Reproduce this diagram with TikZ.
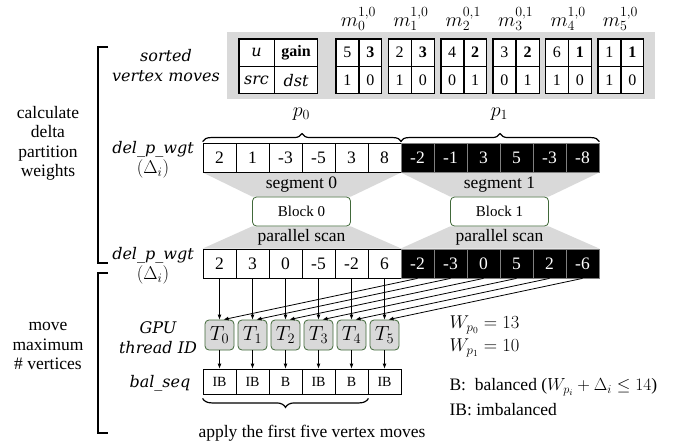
\RequirePackage{fix-cm}
\documentclass[tikz,border=0pt]{standalone}
\usepackage{fontspec}
\setmainfont{Liberation Serif}
\newfontfamily\lblfont{DejaVu Serif}
\usepackage{tikz}
\usetikzlibrary{positioning, arrows.meta, decorations.pathreplacing, backgrounds}
\definecolor{lightshade}{HTML}{D9D9D9}
\definecolor{blockgreen}{HTML}{41693A}

\tikzset{
  cell/.style={draw, line width=0.8pt, fill=white, minimum width=33pt, minimum height=29pt, inner sep=0pt},
  dcell/.style={cell, fill=black, draw=gray, text=white},
  bcell/.style={cell, minimum height=25pt, font=\fontsize{14}{16}\selectfont},
  mcell/.style={draw, line width=0.6pt, fill=white, minimum width=22.5pt, minimum height=27pt, inner sep=0pt, font=\fontsize{16}{18}\selectfont},
  hcell/.style={mcell},
  block/.style={draw=blockgreen, line width=0.8pt, fill=white, rounded corners=4pt, minimum width=98pt, minimum height=29pt, font=\fontsize{15}{17}\selectfont},
  tnode/.style={draw=blockgreen, line width=0.8pt, fill=lightshade, rounded corners=4pt, minimum width=29pt, minimum height=30pt, inner sep=0pt, font=\fontsize{20.5}{22}\selectfont},
  lbl/.style={align=center, font=\lblfont\itshape\fontsize{16}{20}\selectfont},
  mathlbl/.style={font=\fontsize{20}{22}\selectfont},
  arr/.style={-{Latex[length=5pt,width=4pt]}, line width=0.8pt},
  brace/.style={decorate, decoration={brace, amplitude=8pt}, line width=1.2pt}
}

\begin{document}
\begin{tikzpicture}[x=1pt, y=-1pt, font=\fontsize{17.5}{19.5}\selectfont]
  \useasboundingbox (0,0) rectangle (689,444);

  % sorted vertex moves
  \fill[lightshade] (227,32) rectangle (655,99);
  \node[hcell, minimum width=35pt] (hu) at (256.5,52.5) {\lblfont\itshape u};
  \node[hcell, minimum width=43pt, right=0pt of hu] (hg) {\textbf{gain}};
  \node[hcell, minimum width=35pt, below=0pt of hu] (hs) {\lblfont\itshape src};
  \node[hcell, minimum width=43pt, below=0pt of hg] (hd) {\lblfont\itshape dst};
  \draw[line width=1.1pt] (hu.north west) rectangle (hd.south east);

  \foreach \u/\g/\s/\d/\mv [count=\i from 0] in {5/3/1/0/{1,0}, 2/3/1/0/{1,0}, 4/2/0/1/{0,1}, 3/2/0/1/{0,1}, 6/1/1/0/{1,0}, 1/1/1/0/{1,0}} {
    \node[mcell] (mu\i) at (347.25+52.4*\i,52.5) {\u};
    \node[mcell, right=0pt of mu\i] (mg\i) {\textbf{\g}};
    \node[mcell, below=0pt of mu\i] (ms\i) {\s};
    \node[mcell, below=0pt of mg\i] (md\i) {\d};
    \draw[line width=1.1pt] (mu\i.north west) rectangle (md\i.south east);
    \node[mathlbl] (ml\i) at (358.5+52.4*\i,19) {$m_{\i}^{\mv}$};
  }

  % delta partition weights
  \foreach \v [count=\i from 0] in {2,1,-3,-5,3,8}
    \node[cell] (d\i) at (219.5+33*\i,157.5) {\v};
  \foreach \v [count=\i from 6] in {-2,-1,3,5,-3,-8}
    \node[dcell] (d\i) at (219.5+33*\i,157.5) {\v};
  \draw[brace] ([yshift=1pt]d0.north west) -- ([yshift=1pt]d5.north east);
  \draw[brace] ([yshift=1pt]d6.north west) -- ([yshift=1pt]d11.north east);
  \node[mathlbl] (p0) at (301.5,114) {$p_0$};
  \node[mathlbl] (p1) at (499.5,114) {$p_1$};

  \node[block] (blk0) at (301.5,211.5) {Block 0};
  \node[block] (blk1) at (499.5,211.5) {Block 1};

  \foreach \v [count=\i from 0] in {2,3,0,-5,-2,6}
    \node[cell] (s\i) at (219.5+33*\i,263.5) {\v};
  \foreach \v [count=\i from 6] in {-2,-3,0,5,2,-6}
    \node[dcell] (s\i) at (219.5+33*\i,263.5) {\v};

  \begin{scope}[on background layer]
    \fill[lightshade] (d0.south west) -- (d5.south east) -- (blk0.north east) -- (blk0.north west) -- cycle;
    \fill[lightshade] (d6.south west) -- (d11.south east) -- (blk1.north east) -- (blk1.north west) -- cycle;
    \fill[lightshade] (blk0.south west) -- (blk0.south east) -- (s5.north east) -- (s0.north west) -- cycle;
    \fill[lightshade] (blk1.south west) -- (blk1.south east) -- (s11.north east) -- (s6.north west) -- cycle;
  \end{scope}
  \node (seg0) at (301.5,185) {segment 0};
  \node (seg1) at (499.5,185) {segment 1};
  \node (scan0) at (301.5,237) {parallel scan};
  \node (scan1) at (499.5,237) {parallel scan};

  % threads and balance
  \foreach \i in {0,...,5}
    \node[tnode] (t\i) at (219.5+33*\i,335) {$T_{\i}$};
  \foreach \v [count=\i from 0] in {IB,IB,B,IB,B,IB}
    \node[bcell] (b\i) at (219.5+33*\i,381.5) {\v};
  \foreach \i [evaluate=\i as \j using int(\i+6)] in {0,...,5} {
    \draw[arr] (s\i.south) -- (t\i.north);
    \draw[arr] (s\j.south) -- ([xshift=4pt]t\i.north);
    \draw[arr] (t\i.south) -- (b\i.north);
  }
  \draw[brace, decoration={amplitude=9pt}] ([yshift=-4pt]b4.south east) -- ([yshift=-4pt]b0.south west);
  \node (apply) at (312,433) {apply the first five vertex moves};

  \node[anchor=west, font=\fontsize{18.5}{20}\selectfont] (w0) at (446,325) {$W_{p_0} = 13$};
  \node[anchor=west, font=\fontsize{18.5}{20}\selectfont] (w1) at (446,348) {$W_{p_1} = 10$};
  \node[anchor=west] (kb) at (446,387) {B:\ \ balanced ($W_{p_i} + \Delta_i \leq 14$)};
  \node[anchor=west] (kib) at (446,410) {IB: imbalanced};

  % row labels
  \node[lbl] (lsort) at (166,66) {sorted\\vertex moves};
  \node[lbl] (ldel0) at (153,160) {del\_p\_wgt\\\normalfont\fontsize{18.5}{20}\selectfont$(\Delta_i)$};
  \node[lbl] (ldel1) at (153,266) {del\_p\_wgt\\\normalfont\fontsize{18.5}{20}\selectfont$(\Delta_i)$};
  \node[lbl] (lgpu) at (158,338) {GPU\\thread ID};
  \node[lbl] (lbal) at (160,383) {bal\_seq};

  % phases
  \draw[line width=1.2pt] (108,47) -- (98,47) -- (98,263) -- (108,263);
  \draw[line width=1.2pt] (108,273) -- (98,273) -- (98,433) -- (108,433);
  \node[align=center] (calc) at (48,143.5) {calculate\\delta\\partition\\weights};
  \node[align=center] (move) at (48,346) {move\\maximum\\\# vertices};
\end{tikzpicture}
\end{document}
